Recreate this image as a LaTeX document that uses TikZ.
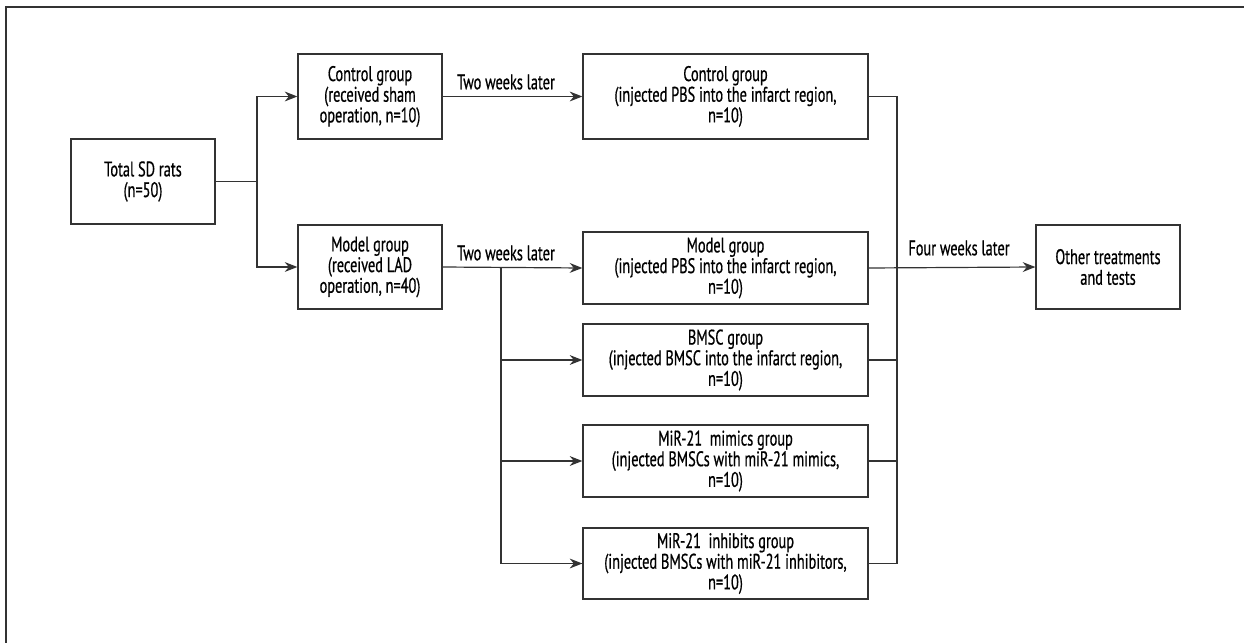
\documentclass[tikz,border=0pt]{standalone}
\usepackage{fontspec}
\setmainfont{PT Sans}[FakeStretch=0.68, FakeBold=0.6]
\usepackage{tikz}
\usetikzlibrary{calc,arrows.meta}

\begin{document}
\begin{tikzpicture}[x=0.025cm, y=-0.025cm, line width=0.85pt, black!80,
    grp/.style={draw, rectangle, align=center, inner sep=2pt, text=black,
      font=\fontsize{15}{14.7}\selectfont},
    lbl/.style={text=black, font=\fontsize{15}{14.7}\selectfont},
    arr/.style={-{Stealth[length=9pt,width=7pt]}}]
      \useasboundingbox (0,0) rectangle (1244,643);
      \draw (6,643) -- (6,7) -- (1244,7);

      \node (total) at (143,181.5) [grp, minimum width=3.6cm, minimum height=2.125cm] {Total SD rats\\(n=50)};
      \node (ctrl) at (370,96.5) [grp, minimum width=3.6cm, minimum height=2.125cm] {Control group\\(received sham\\operation, n=10)};
      \node (model) at (370,267) [grp, minimum width=3.6cm, minimum height=2.1cm] {Model group\\(received LAD\\operation, n=40)};

      \node (ctrlB) at (725.5,96.5) [grp, minimum width=7.125cm, minimum height=2.125cm] {Control group\\(injected PBS into the infarct region,\\n=10)};
      \node (modelB) at (725.5,268) [grp, minimum width=7.125cm, minimum height=1.8cm] {Model group\\(injected PBS into the infarct region,\\n=10)};
      \node (bmsc) at (725.5,360) [grp, minimum width=7.125cm, minimum height=1.8cm] {BMSC group\\(injected BMSC into the infarct region,\\n=10)};
      \node (mimics) at (725.5,461) [grp, minimum width=7.125cm, minimum height=1.8cm] {MiR-21~~mimics group\\(injected BMSCs with miR-21 mimics,\\n=10)};
      \node (inhib) at (725.5,563.5) [grp, minimum width=7.125cm, minimum height=1.775cm] {MiR-21~~inhibits group\\(injected BMSCs with miR-21 inhibitors,\\n=10)};

      \node (other) at (1108,267) [grp, minimum width=3.6cm, minimum height=2.1cm] {Other treatments\\and tests};

      \coordinate (split) at (257,181.5);
      \coordinate (fork) at (501,268);
      \coordinate (merge) at (897,96.5);

      % first split
      \draw (total.east) -- (split);
      \draw[arr] (split) |- (ctrl.west);
      \draw[arr] (split) |- (model.west);

      % two weeks later
      \draw[arr] (ctrl.east) -- (ctrlB.west);
      \draw (506,82) node[lbl] {Two weeks later};
      \draw[arr] (model.east) -- (modelB.west);
      \draw (506,253) node[lbl] {Two weeks later};
      \draw (fork) |- (inhib.west);
      \draw[arr] (fork |- bmsc.west) -- (bmsc.west);
      \draw[arr] (fork |- mimics.west) -- (mimics.west);
      \draw[arr] (fork |- inhib.west) -- (inhib.west);

      % four weeks later
      \draw (ctrlB.east) -- (merge) -- (merge |- inhib.east) -- (inhib.east);
      \draw (bmsc.east) -- (merge |- bmsc.east);
      \draw (mimics.east) -- (merge |- mimics.east);
      \draw[arr] (modelB.east) -- (other.west);
      \draw (959,248) node[lbl] {Four weeks later};

    \end{tikzpicture}
\end{document}
